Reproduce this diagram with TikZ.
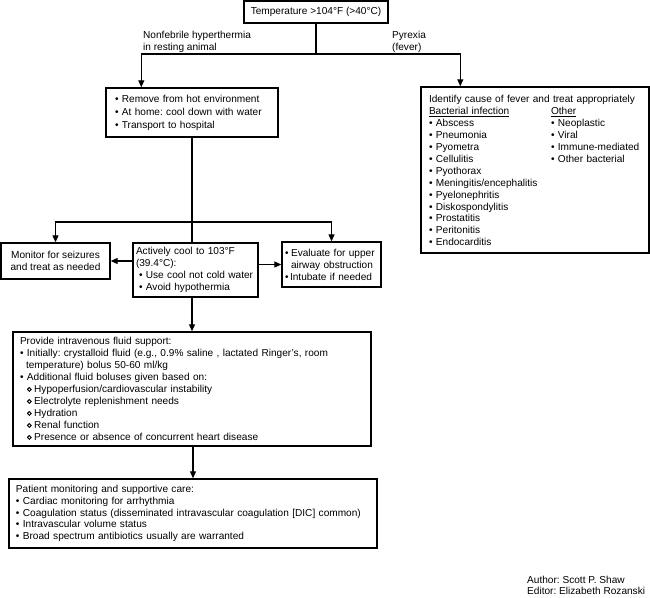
\documentclass[tikz,border=0pt]{standalone}
\usepackage{fontspec}
\setmainfont{Liberation Sans}
\usetikzlibrary{arrows.meta,calc}
\newcommand\bul{\textbullet\ }
\newcommand\obul{\hspace*{7pt}\tikz[baseline=0pt]{\draw[line width=0.9pt] (2pt,3.2pt) circle[radius=1.9pt];}\hspace{2.5pt}}
\newcommand\ind{\hspace*{6pt}}
\newcommand\nohy{\hyphenpenalty=10000 \exhyphenpenalty=10000 }
\frenchspacing
\begin{document}
\begin{tikzpicture}[x=1pt,y=-1pt,
  box/.style={draw, line width=1.4pt, inner ysep=0pt, font=\fontsize{10.1}{12}\selectfont\nohy},
  ln/.style={line width=1.1pt},
  arr/.style={ln, -{Triangle[length=7pt,width=6pt]}},
  lbl/.style={inner sep=0pt, align=left, font=\fontsize{10.1}{12}\selectfont}]
\useasboundingbox (0,0) rectangle (650,597);

% boxes
\node[box, minimum width=144pt, minimum height=22pt, inner xsep=0pt, align=center] (temp) at (316,12) {Temperature >104°F (>40°C)};

\node[box, minimum width=172pt, minimum height=49pt, inner xsep=9pt, text width=154pt, align=left, font=\fontsize{10.1}{13}\selectfont\nohy] (remove) at (192,112.5)
  {\bul Remove from hot environment\\ \bul At home: cool down with water\\ \bul Transport to hospital};

\node[box, minimum width=228pt, minimum height=166pt, inner xsep=8pt, text width=212pt, align=left, font=\fontsize{10.1}{11.9}\selectfont\nohy] (cause) at (535,170)
  {\begin{tabular}{@{}p{122pt}@{}l@{}}
   \multicolumn{2}{@{}l@{}}{Identify cause of fever and treat appropriately}\\
   \underline{Bacterial infection} & \underline{Other}\\
   \bul Abscess & \bul Neoplastic\\
   \bul Pneumonia & \bul Viral\\
   \bul Pyometra & \bul Immune-mediated\\
   \bul Cellulitis & \bul Other bacterial\\
   \bul Pyothorax & \\
   \bul Meningitis/encephalitis & \\
   \bul Pyelonephritis & \\
   \bul Diskospondylitis & \\
   \bul Prostatitis & \\
   \bul Peritonitis & \\
   \bul Endocarditis & \\[-4pt]
   \end{tabular}};

\node[box, minimum width=109pt, minimum height=36pt, inner xsep=0pt, align=center] (monitor) at (55.5,261)
  {Monitor for seizures\\and treat as needed};

\node[box, minimum width=125pt, minimum height=54pt, inner xsep=3pt, text width=119pt, align=left] (cool) at (195.5,270)
  {Actively cool to 103°F\\(39.4°C):\\ \hspace*{3pt}\bul Use cool not cold water\\ \hspace*{3pt}\bul Avoid hypothermia\\[-4pt]};

\node[box, minimum width=99pt, minimum height=45pt, inner xsep=2pt, text width=95pt, align=left] (evaluate) at (331.5,264.5)
  {\hspace*{1pt}\textbullet\hspace{2.5pt}Evaluate for upper\\ \hspace*{7pt}airway obstruction\\ \hspace*{1pt}\textbullet\hspace{1.5pt}Intubate if needed};

\node[box, minimum width=358pt, minimum height=114pt, inner xsep=7pt, text width=344pt, align=left] (fluid) at (192,389)
  {Provide intravenous fluid support:\\
   \bul Initially: crystalloid fluid (e.g., 0.9\% saline , lactated Ringer's, room\\
   \ind temperature) bolus 50-60 ml/kg\\
   \bul Additional fluid boluses given based on:\\
   \obul Hypoperfusion/cardiovascular instability\\
   \obul Electrolyte replenishment needs\\
   \obul Hydration\\
   \obul Renal function\\
   \obul Presence or absence of concurrent heart disease};

\node[box, minimum width=368pt, minimum height=69pt, inner xsep=7pt, text width=354pt, align=left, font=\fontsize{10.1}{11.6}\selectfont\nohy] (patient) at (193,513.5)
  {Patient monitoring and supportive care:\\
   \bul Cardiac monitoring for arrhythmia\\
   \bul Coagulation status (disseminated intravascular coagulation [DIC] common)\\
   \bul Intravascular volume status\\
   \bul Broad spectrum antibiotics usually are warranted};

% labels
\node[lbl, anchor=west] (nonfeb) at (143,42) {Nonfebrile hyperthermia\\in resting animal};
\node[lbl, anchor=west] (pyrexia) at (392,42) {Pyrexia\\(fever)};
\node[lbl, anchor=west, font=\fontsize{10.1}{11}\selectfont] (author) at (527,585) {Author: Scott P. Shaw\\Editor: Elizabeth Rozanski};

% connectors
\coordinate (sp) at (316,54);
\draw[ln] (temp.south) -- (sp);
\draw[arr] (sp) -| ($(remove.north west)+(36,0)$);
\draw[arr] (sp) -| ($(cause.north west)+(40,0)$);

\coordinate (br) at (192,222);
\draw[ln] (remove.south) -- (remove.south |- cool.north);
\draw[arr] (br) -| (monitor.north);
\draw[arr] (br) -| (evaluate.north);
\draw[arr] (cool.west |- monitor.east) -- (monitor.east);
\draw[arr] (cool.east |- evaluate.west) -- (evaluate.west);
\draw[arr] (remove.south |- cool.south) -- (remove.south |- fluid.north);
\draw[arr] (fluid.south -| patient.north) -- (patient.north);
\end{tikzpicture}
\end{document}
